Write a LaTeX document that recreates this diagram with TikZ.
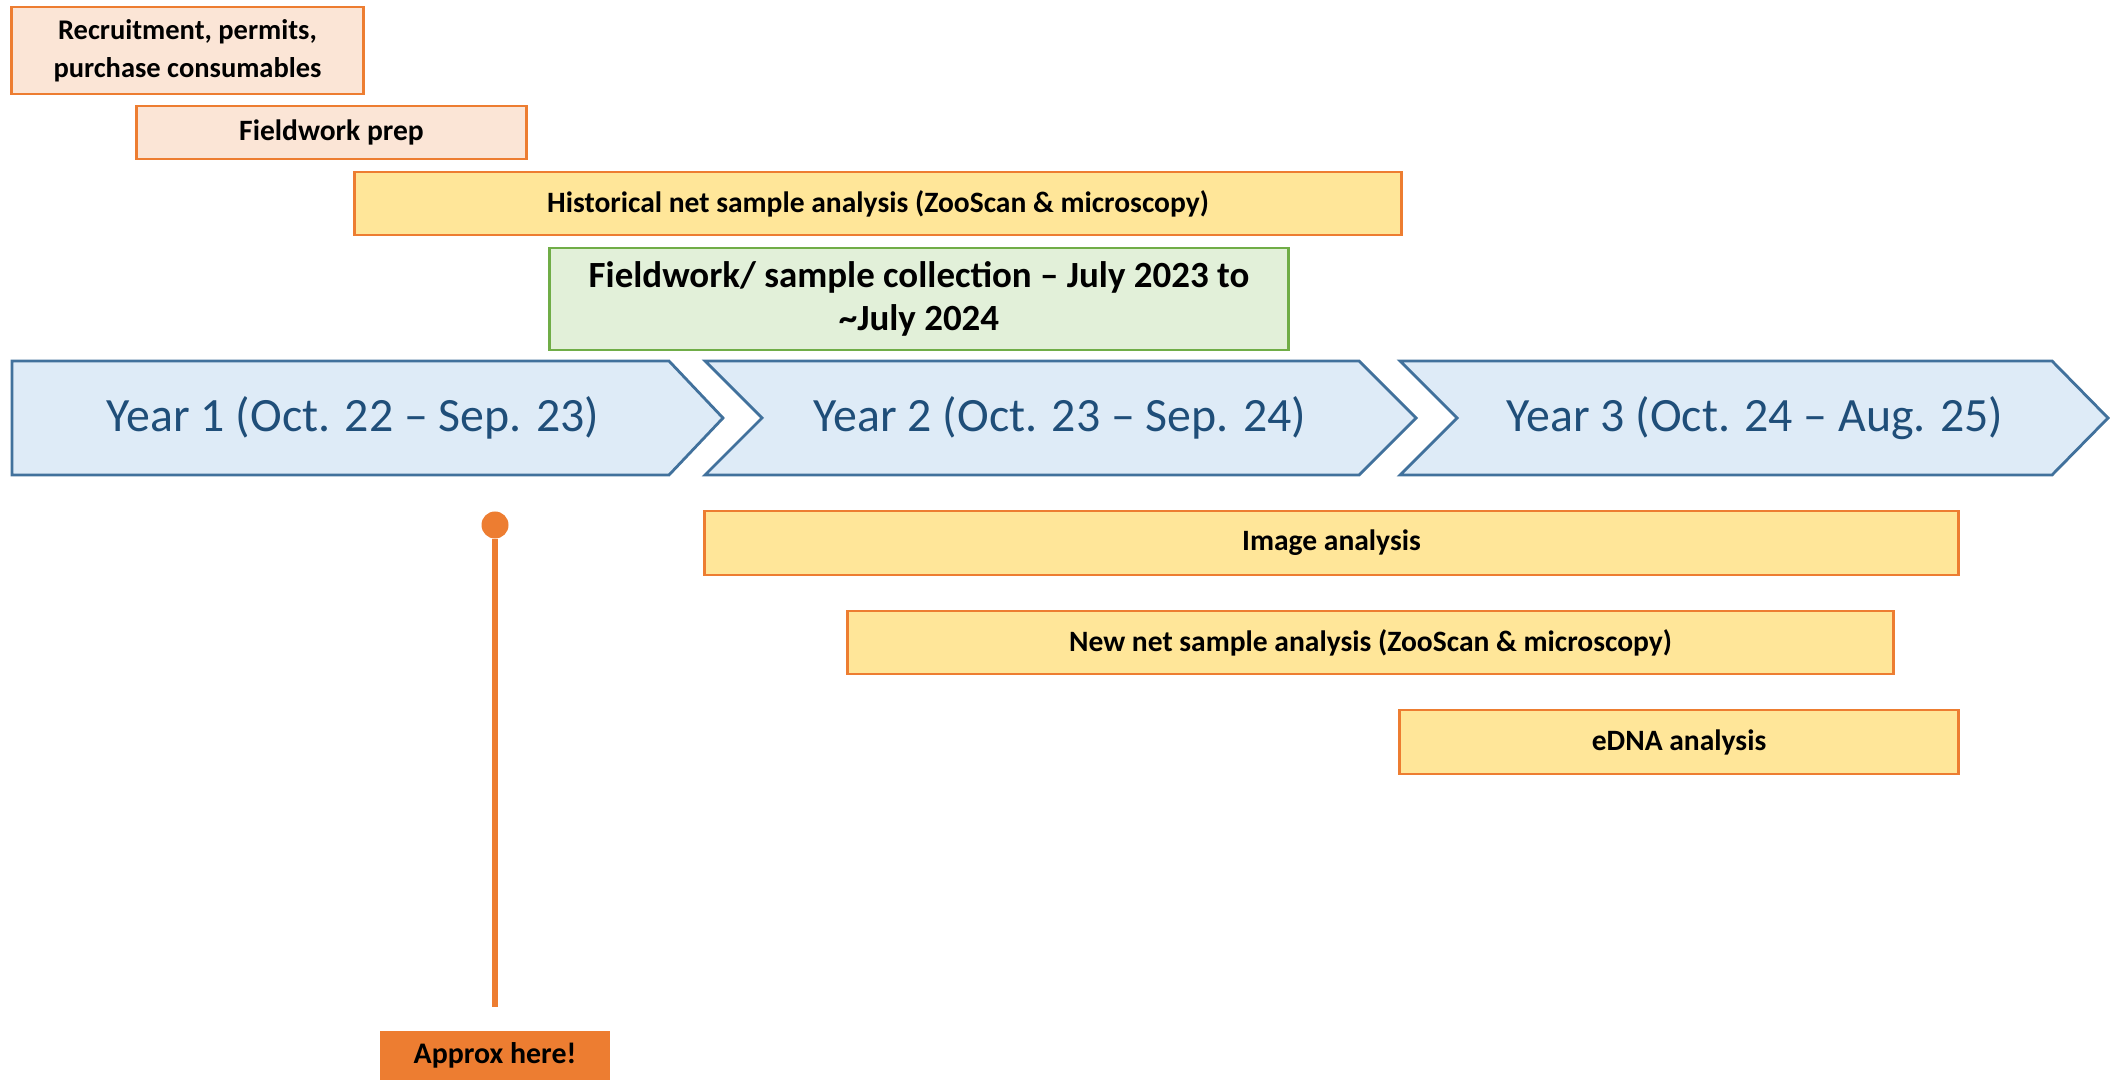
\documentclass[tikz,border=0pt]{standalone}
\usepackage{fontspec}
\setmainfont{Carlito}
\usepackage{xcolor}
\usetikzlibrary{arrows.meta,positioning,calc}
\definecolor{peachfill}{HTML}{FBE5D6}
\definecolor{taskorange}{HTML}{ED7D31}
\definecolor{yellowfill}{HTML}{FFE699}
\definecolor{greenfill}{HTML}{E2F0D9}
\definecolor{greenline}{HTML}{70AD47}
\definecolor{yearfill}{HTML}{DEEBF7}
\definecolor{yearline}{HTML}{41719C}
\definecolor{yeartextc}{HTML}{1F4E79}

\tikzset{
  taskbox/.style={draw=taskorange, line width=0.8pt, inner sep=0pt, outer sep=0pt,
    align=center, font=\fontsize{8.4}{10.7}\selectfont\bfseries},
  prepbox/.style={taskbox, fill=peachfill},
  workbox/.style={taskbox, fill=yellowfill},
  fieldbox/.style={draw=greenline, line width=0.8pt, fill=greenfill, inner sep=0pt,
    align=center, font=\fontsize{10.5}{12.4}\selectfont\bfseries},
  yearbar/.style={draw=yearline, line width=0.8pt, fill=yearfill, line join=miter},
  yeartext/.style={text=yeartextc, font=\fontsize{13.6}{16}\selectfont},
}

\begin{document}
\begin{tikzpicture}[x=0.01cm, y=-0.01cm]
  \useasboundingbox (0,0) rectangle (2110,1080);

  % set-up tasks
  \node[prepbox, minimum width=3.51cm, minimum height=0.87cm, font=\fontsize{8.1}{10.8}\selectfont\bfseries]
    (recruit) at (187.5,50.5) {Recruitment, permits,\\purchase consumables};
  \node[prepbox, minimum width=3.89cm, minimum height=0.53cm] (prep) at (331.5,132.5) {Fieldwork prep};
  \node[workbox, minimum width=10.46cm, minimum height=0.63cm] (hist) at (878,203.5)
    {Historical net sample analysis (ZooScan \& microscopy)};
  \node[fieldbox, minimum width=7.38cm, minimum height=1.02cm] (field) at (919,299)
    {Fieldwork/ sample collection -- July 2023 to\\\textasciitilde July 2024};

  % the three years
  \draw[yearbar] (12,361) -- (669,361) -- (723,418) -- (669,475) -- (12,475) -- cycle;
  \draw[yearbar] (705,361) -- (1359,361) -- (1416,418) -- (1359,475) -- (705,475) -- (762,418) -- cycle;
  \draw[yearbar] (1400,361) -- (2052,361) -- (2108,418) -- (2052,475) -- (1400,475) -- (1457,418) -- cycle;
  \node[yeartext] (year1) at (353,418) {Year 1 (Oct. 22 -- Sep. 23)};
  \node[yeartext] (year2) at (1060,418) {Year 2 (Oct. 23 -- Sep. 24)};
  \node[yeartext] (year3) at (1755,418) {Year 3 (Oct. 24 -- Aug. 25)};

  % analysis tasks
  \node[workbox, minimum width=12.53cm, minimum height=0.64cm] (image) at (1331.5,543) {Image analysis};
  \node[workbox, minimum width=10.45cm, minimum height=0.63cm] (newnet) at (1370.5,642.5)
    {New net sample analysis (ZooScan \& microscopy)};
  \node[workbox, minimum width=5.58cm, minimum height=0.64cm] (edna) at (1679,742) {eDNA analysis};

  % where we are now
  \node[circle, fill=taskorange, inner sep=0pt, minimum size=0.27cm] (pin) at (495,525) {};
  \coordinate (pinend) at (495,1007);
  \draw[taskorange, line width=1.5pt] (pin) -- (pinend);
  \node[fill=taskorange, inner sep=0pt, minimum width=2.30cm, minimum height=0.49cm,
    font=\fontsize{8.5}{10}\selectfont\bfseries] (approx) at (495,1055.5) {Approx here!};
\end{tikzpicture}
\end{document}
